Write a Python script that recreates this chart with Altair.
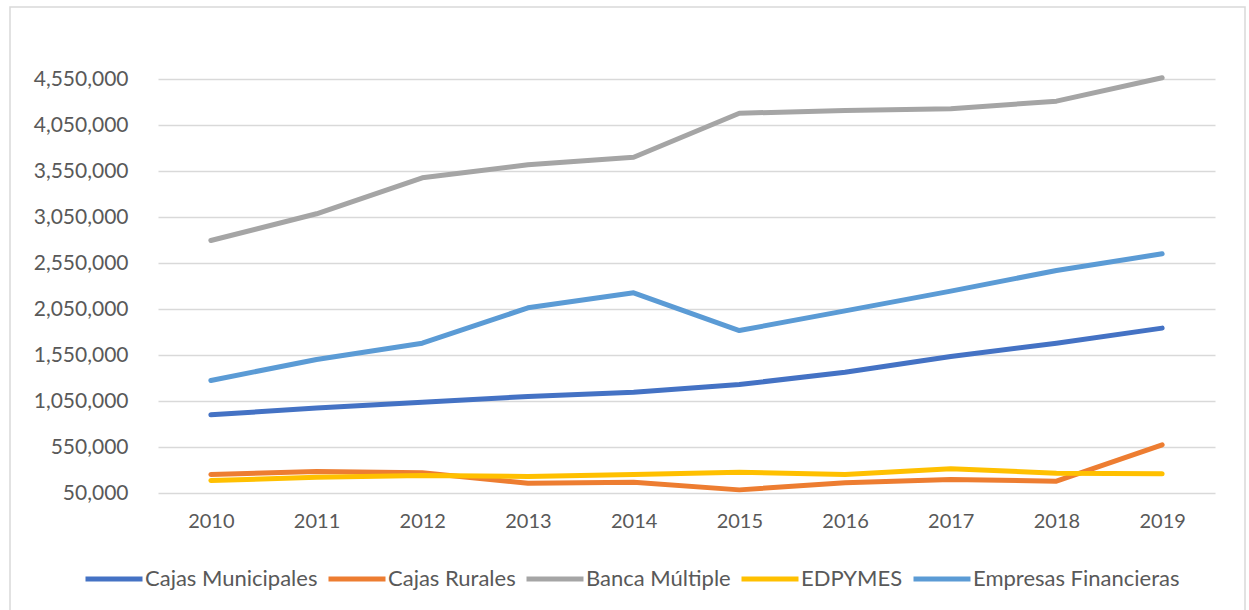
import altair as alt
import pandas as pd

years = ["2010", "2011", "2012", "2013", "2014", "2015", "2016", "2017", "2018", "2019"]
series = ["Cajas Municipales", "Cajas Rurales", "Banca Múltiple", "EDPYMES", "Empresas Financieras"]
colors = ["#4472C4", "#ED7D31", "#A5A5A5", "#FFC000", "#5B9BD5"]

cajas_municipales = [900000, 973000, 1037000, 1099000, 1146000, 1229000, 1363000, 1534000, 1678000, 1842000]
cajas_rurales = [251000, 283000, 269000, 157000, 167000, 84000, 161000, 197000, 178000, 574000]
banca_multiple = [2795000, 3085000, 3476000, 3617000, 3700000, 4178000, 4208000, 4226000, 4309000, 4563000]
edpymes = [186000, 220000, 240000, 229000, 251000, 276000, 251000, 313000, 265000, 258000]
empresas_financieras = [1273000, 1501000, 1678000, 2063000, 2226000, 1816000, 2030000, 2244000, 2469000, 2650000]

y_ticks = [50000, 550000, 1050000, 1550000, 2050000, 2550000, 3050000, 3550000, 4050000, 4550000]

rows = []
for name, vals in zip(series, [cajas_municipales, cajas_rurales, banca_multiple, edpymes, empresas_financieras]):
    for yr, v in zip(years, vals):
        rows.append({"year": yr, "serie": name, "valor": v})
df = pd.DataFrame(rows)

FONT = "Lato"
TXT = "#595959"

lines = alt.Chart(df).mark_line(strokeWidth=5, strokeCap="round", strokeJoin="round").encode(
    x=alt.X("year:O", sort=years, title=None,
            axis=alt.Axis(labelAngle=0, ticks=False, domain=False, grid=False,
                          labelPadding=18, labelFontSize=20, labelColor=TXT, labelFont=FONT)),
    y=alt.Y("valor:Q", title=None,
            scale=alt.Scale(domain=[50000, 4550000], nice=False, zero=False),
            axis=alt.Axis(values=y_ticks, format=",.0f", ticks=False, domain=False,
                          gridColor="#D9D9D9", gridWidth=1.5, labelPadding=30,
                          labelFontSize=21, labelColor=TXT, labelFont=FONT)),
    color=alt.Color("serie:N", sort=series,
                    scale=alt.Scale(domain=series, range=colors),
                    legend=alt.Legend(title=None, orient="none", legendX=-75, legendY=469,
                                      direction="horizontal", columns=5, symbolType="stroke",
                                      symbolSize=3249, symbolStrokeWidth=5, labelFontSize=22,
                                      labelColor=TXT, labelFont=FONT, columnPadding=0,
                                      labelOffset=0, labelLimit=400, padding=0)),
)

border = alt.Chart(alt.Data(values=[{}])).mark_rect(
    fill="transparent", stroke="#D9D9D9", strokeWidth=1.5
).encode(
    x=alt.value(-148), x2=alt.value(1087), y=alt.value(-72), y2=alt.value(545)
)

chart = alt.layer(border, lines).properties(
    width=1057, height=414,
    autosize=alt.AutoSizeParams(type="none"),
    padding={"left": 158, "top": 79, "right": 34, "bottom": 117},
    background="white",
).configure_view(stroke=None)

chart.save("out.html", embed_options={"renderer": "svg", "actions": False})
